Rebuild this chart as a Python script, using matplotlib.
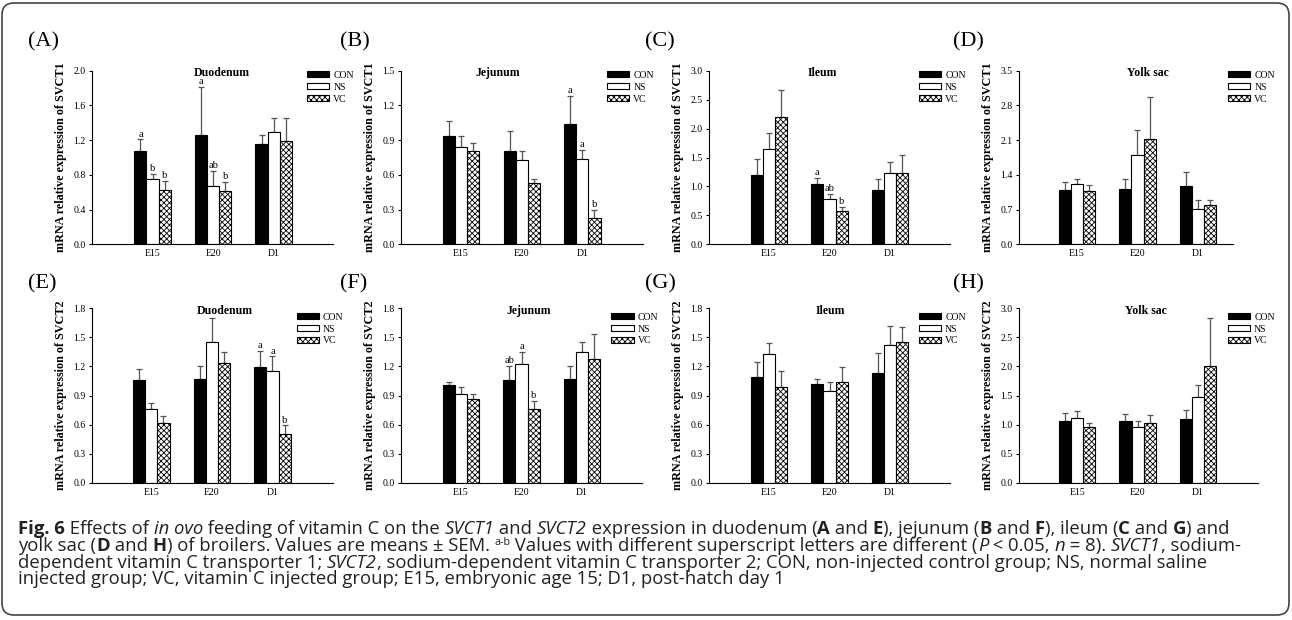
import numpy as np
import matplotlib
matplotlib.use("Agg")
import matplotlib.pyplot as plt
from matplotlib.patches import FancyBboxPatch
from matplotlib.transforms import IdentityTransform

# ---- data (means and SEM, rows = CON, NS, VC; cols = E15, E20, D1) ----
groups = ["E15", "E20", "D1"]
treatments = ["CON", "NS", "VC"]

duo1_mean = [[1.07, 1.26, 1.15], [0.75, 0.67, 1.29], [0.62, 0.61, 1.19]]
duo1_sem = [[0.14, 0.55, 0.11], [0.06, 0.175, 0.17], [0.11, 0.11, 0.26]]
duo1_sig = [["a", "a", ""], ["b", "ab", ""], ["b", "b", ""]]

jej1_mean = [[0.94, 0.806, 1.036], [0.838, 0.725, 0.734], [0.803, 0.527, 0.227]]
jej1_sem = [[0.125, 0.175, 0.245], [0.095, 0.085, 0.08], [0.075, 0.033, 0.07]]
jej1_sig = [["", "", "a"], ["", "", "a"], ["", "", "b"]]

ile1_mean = [[1.20, 1.05, 0.94], [1.64, 0.78, 1.23], [2.20, 0.57, 1.24]]
ile1_sem = [[0.28, 0.10, 0.19], [0.28, 0.09, 0.20], [0.47, 0.075, 0.30]]
ile1_sig = [["", "a", ""], ["", "ab", ""], ["", "b", ""]]

yolk1_mean = [[1.10, 1.12, 1.18], [1.21, 1.81, 0.72], [1.07, 2.13, 0.79]]
yolk1_sem = [[0.15, 0.19, 0.27], [0.10, 0.50, 0.17], [0.13, 0.83, 0.10]]

duo2_mean = [[1.056, 1.067, 1.198], [0.764, 1.449, 1.153], [0.613, 1.239, 0.506]]
duo2_sem = [[0.12, 0.14, 0.165], [0.055, 0.25, 0.15], [0.08, 0.105, 0.085]]
duo2_sig = [["", "", "a"], ["", "", "a"], ["", "", "b"]]

jej2_mean = [[1.008, 1.06, 1.07], [0.912, 1.225, 1.352], [0.867, 0.76, 1.28]]
jej2_sem = [[0.035, 0.145, 0.13], [0.08, 0.125, 0.10], [0.045, 0.085, 0.25]]
jej2_sig = [["", "ab", ""], ["", "a", ""], ["", "b", ""]]

ile2_mean = [[1.087, 1.015, 1.132], [1.332, 0.943, 1.421], [0.988, 1.043, 1.449]]
ile2_sem = [[0.16, 0.055, 0.205], [0.115, 0.095, 0.20], [0.16, 0.155, 0.155]]

yolk2_mean = [[1.061, 1.055, 1.09], [1.107, 0.958, 1.468], [0.964, 1.021, 2.008]]
yolk2_sem = [[0.13, 0.12, 0.155], [0.13, 0.11, 0.21], [0.06, 0.15, 0.82]]

no_sig = [["", "", ""]] * 3

W, H = 1292, 620
plt.rcParams["font.family"] = ["Liberation Serif", "DejaVu Serif"]
plt.rcParams["hatch.linewidth"] = 0.6
fig = plt.figure(figsize=(W / 100, H / 100), dpi=100)


def px_axes(left, right, top, bottom):
    return fig.add_axes([left / W, 1 - bottom / H, (right - left) / W, (bottom - top) / H])


# label, title, gene, means, sems, letters, yticks, axes px (l, r, t, b), xlim, title x, legend x
panels = [
    ("(A)", "Duodenum", "SVCT1", duo1_mean, duo1_sem, duo1_sig, np.arange(0, 2.01, 0.4),
     (92, 333, 70.7, 244.3), (-1.0, 2.98), 0.54, 0.892, 28, 42),
    ("(B)", "Jejunum", "SVCT1", jej1_mean, jej1_sem, jej1_sig, np.arange(0, 1.51, 0.3),
     (401, 643, 70.7, 244.3), (-0.99, 3.0), 0.40, 0.851, 340, 42),
    ("(C)", "Ileum", "SVCT1", ile1_mean, ile1_sem, ile1_sig, np.arange(0, 3.01, 0.5),
     (709, 950, 70.7, 244.3), (-0.99, 2.99), 0.47, 0.871, 645, 42),
    ("(D)", "Yolk sac", "SVCT1", yolk1_mean, yolk1_sem, no_sig, np.arange(0, 3.51, 0.7),
     (1019, 1233, 70.7, 244.3), (-0.96, 2.58), 0.60, 0.977, 953, 42),
    ("(E)", "Duodenum", "SVCT2", duo2_mean, duo2_sem, duo2_sig, np.arange(0, 1.81, 0.3),
     (92, 333, 308.3, 482.7), (-0.98, 3.0), 0.55, 0.85, 28, 283.5),
    ("(F)", "Jejunum", "SVCT2", jej2_mean, jej2_sem, jej2_sig, np.arange(0, 1.81, 0.3),
     (401, 642, 308.3, 482.7), (-0.99, 2.99), 0.53, 0.872, 340, 283.5),
    ("(G)", "Ileum", "SVCT2", ile2_mean, ile2_sem, no_sig, np.arange(0, 1.81, 0.3),
     (709, 950, 308.3, 482.7), (-0.99, 2.99), 0.505, 0.871, 645, 283.5),
    ("(H)", "Yolk sac", "SVCT2", yolk2_mean, yolk2_sem, no_sig, np.arange(0, 3.01, 0.5),
     (1019, 1258, 308.3, 482.7), (-0.96, 2.99), 0.53, 0.874, 953, 283.5),
]

styles = [dict(color="black", edgecolor="black"),
          dict(color="white", edgecolor="black"),
          dict(color="white", edgecolor="black", hatch="xxxxxx")]
bw = 0.2
x = np.arange(len(groups))

for (lab, title, gene, means, sems, sig, yticks, box, xlim, tx, lx, labx, laby) in panels:
    ax = px_axes(*box)
    handles = []
    for i, tr in enumerate(treatments):
        xi = x + (i - 1) * bw
        b = ax.bar(xi, means[i], bw, linewidth=0.8, label=tr, zorder=2, **styles[i])
        handles.append(b)
        ax.errorbar(xi, means[i], yerr=[np.zeros(3), sems[i]], fmt="none", ecolor="#555555",
                    elinewidth=0.9, capsize=2.3, capthick=0.9, zorder=1)
        for j in range(3):
            if sig[i][j]:
                ax.annotate(sig[i][j], (xi[j], means[i][j] + sems[i][j]), xytext=(0, 0.5),
                            textcoords="offset points", ha="center", va="bottom", fontsize=7.5)
    ax.set_xlim(*xlim)
    ax.set_ylim(0, yticks[-1])
    ax.set_yticks(yticks)
    ax.set_yticklabels([f"{v:.1f}" for v in yticks])
    ax.set_xticks(x)
    ax.set_xticklabels(groups)
    ax.tick_params(axis="y", direction="out", length=2.5, width=0.8, labelsize=7, pad=2)
    ax.tick_params(axis="x", length=0, labelsize=7, pad=3.5)
    for s in ("top", "right"):
        ax.spines[s].set_visible(False)
    for s in ("left", "bottom"):
        ax.spines[s].set_linewidth(0.8)
    ax.set_ylabel(f"mRNA relative expression of {gene}", fontsize=8.7, fontweight="bold")
    ax.yaxis.set_label_coords(-25 / (box[1] - box[0]), 0.5)
    ax.text(tx, 0.985, title, transform=ax.transAxes, ha="center", va="center",
            fontsize=8.5, fontweight="bold")
    ax.legend(handles=handles, loc="upper left", bbox_to_anchor=(lx, 1.0 if box[2] < 100 else 0.975),
              frameon=False, fontsize=7, handlelength=2.3, handleheight=0.5, labelspacing=0.3,
              handletextpad=0.4, borderpad=0, borderaxespad=0)
    fig.text(labx / W, 1 - laby / H, lab, fontsize=16, ha="left", va="center")

# ---- caption ----
cap_family = ["Open Sans", "DejaVu Sans"]
renderer = fig.canvas.get_renderer()


def text_width(s, **kw):
    t = fig.text(0, 0, "|" + s + "|", **kw)
    w1 = t.get_window_extent(renderer).width
    t.remove()
    t = fig.text(0, 0, "||", **kw)
    w0 = t.get_window_extent(renderer).width
    t.remove()
    return w1 - w0


def run_kw(st, size):
    kw = dict(family=cap_family, fontsize=size, color="#222222")
    if st == "b":
        kw["fontweight"] = "bold"
    elif st == "i":
        kw["fontstyle"] = "italic"
    elif st == "sup":
        kw["fontsize"] = size * 0.58
    return kw


def line_width(runs, size):
    return sum(text_width(s, **run_kw(st, size)) for s, st in runs)


def draw_line(runs, x0, baseline, size):
    xp = x0
    for s, st in runs:
        kw = run_kw(st, size)
        y = baseline - (size * 0.34 * 100 / 72 if st == "sup" else 0)
        fig.text(xp / W, 1 - y / H, s, ha="left", va="baseline", **kw)
        xp += text_width(s, **kw)


cap_lines = [
    [("Fig. 6", "b"), (" Effects of ", "n"), ("in ovo", "i"), (" feeding of vitamin C on the ", "n"),
     ("SVCT1", "i"), (" and ", "n"), ("SVCT2", "i"), (" expression in duodenum (", "n"), ("A", "b"),
     (" and ", "n"), ("E", "b"), ("), jejunum (", "n"), ("B", "b"), (" and ", "n"), ("F", "b"),
     ("), ileum (", "n"), ("C", "b"), (" and ", "n"), ("G", "b"), (") and", "n")],
    [("yolk sac (", "n"), ("D", "b"), (" and ", "n"), ("H", "b"),
     (") of broilers. Values are means \u00b1 SEM. ", "n"), ("a-b", "sup"),
     (" Values with different superscript letters are different (", "n"), ("P", "i"),
     (" < 0.05, ", "n"), ("n", "i"), (" = 8). ", "n"), ("SVCT1", "i"), (", sodium-", "n")],
    [("dependent vitamin C transporter 1; ", "n"), ("SVCT2", "i"),
     (", sodium-dependent vitamin C transporter 2; CON, non-injected control group; NS, normal saline", "n")],
    [("injected group; VC, vitamin C injected group; E15, embryonic age 15; D1, post-hatch day 1", "n")],
]
# fit the first caption line to the width used in the original layout
cap_size = 11 * 1212 / line_width(cap_lines[0], 11)
for k, runs in enumerate(cap_lines):
    draw_line(runs, 18, 534 + k * 16.8, cap_size)

# rounded frame around the figure
fig.patches.append(FancyBboxPatch((2, 5), W - 5, H - 8, boxstyle="round,pad=0,rounding_size=12",
                                  transform=IdentityTransform(), fill=False, ec="#444444", lw=1.2))

fig.savefig("out.png", dpi=100)
